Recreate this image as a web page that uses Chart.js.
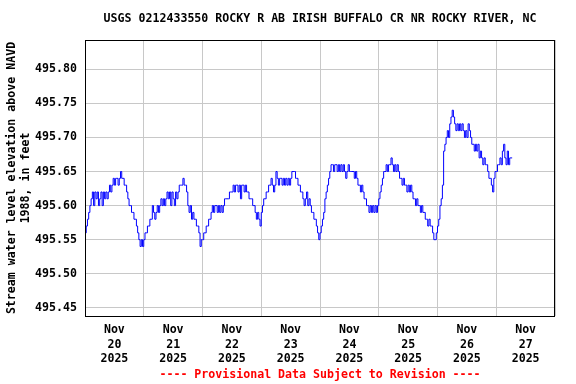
<!DOCTYPE html>
<html>
<head>
<meta charset="utf-8">
<script src="https://cdn.jsdelivr.net/npm/chart.js@4"></script>
<style>
  body { margin: 0; background: #fff; }
  canvas { display: block; }
</style>
</head>
<body>
<canvas id="levelChart" width="576" height="384"></canvas>
<script>
// 30-minute gage readings, ft above NAVD 1988, one array per day
const nov20 = [495.56,495.57,495.58,495.59,495.60,495.61,495.62,495.60,
               495.62,495.61,495.62,495.60,495.61,495.62,495.60,495.62,
               495.61,495.62,495.61,495.62,495.63,495.62,495.63,495.64,
               495.63,495.64,495.64,495.63,495.64,495.65,495.64,495.64,
               495.63,495.63,495.62,495.61,495.60,495.60,495.59,495.59,
               495.58,495.58,495.57,495.56,495.55,495.54,495.55,495.54];
const nov21 = [495.55,495.56,495.56,495.57,495.57,495.58,495.58,495.60,
               495.59,495.58,495.59,495.60,495.59,495.60,495.61,495.60,
               495.61,495.60,495.61,495.62,495.61,495.62,495.60,495.62,
               495.61,495.60,495.62,495.61,495.62,495.63,495.63,495.63,
               495.64,495.63,495.63,495.62,495.60,495.59,495.60,495.58,
               495.59,495.58,495.58,495.57,495.57,495.56,495.54,495.55];
const nov22 = [495.55,495.56,495.56,495.57,495.57,495.58,495.58,495.59,
               495.60,495.59,495.60,495.60,495.59,495.60,495.59,495.60,
               495.59,495.60,495.61,495.61,495.61,495.61,495.62,495.62,
               495.62,495.63,495.62,495.63,495.63,495.62,495.63,495.61,
               495.63,495.63,495.62,495.63,495.62,495.62,495.61,495.61,
               495.61,495.60,495.60,495.59,495.58,495.59,495.58,495.57];
const nov23 = [495.59,495.60,495.61,495.61,495.62,495.62,495.63,495.63,
               495.64,495.63,495.62,495.63,495.65,495.64,495.63,495.64,
               495.64,495.63,495.64,495.63,495.64,495.63,495.64,495.63,
               495.64,495.65,495.65,495.65,495.64,495.64,495.63,495.63,
               495.62,495.62,495.61,495.60,495.61,495.62,495.60,495.61,
               495.60,495.59,495.59,495.58,495.58,495.57,495.56,495.55];
const nov24 = [495.56,495.57,495.58,495.59,495.61,495.62,495.63,495.64,
               495.65,495.66,495.66,495.65,495.66,495.66,495.65,495.66,
               495.65,495.66,495.65,495.66,495.65,495.64,495.65,495.66,
               495.65,495.65,495.65,495.65,495.64,495.65,495.64,495.63,
               495.63,495.62,495.63,495.62,495.61,495.61,495.60,495.60,
               495.59,495.60,495.59,495.60,495.59,495.60,495.59,495.60];
const nov25 = [495.61,495.62,495.63,495.64,495.65,495.65,495.66,495.65,
               495.66,495.66,495.67,495.66,495.65,495.66,495.65,495.66,
               495.65,495.64,495.64,495.63,495.64,495.63,495.63,495.62,
               495.63,495.62,495.63,495.62,495.61,495.61,495.60,495.61,
               495.60,495.60,495.59,495.60,495.59,495.59,495.58,495.58,
               495.57,495.58,495.57,495.57,495.56,495.55,495.55,495.56];
const nov26 = [495.57,495.58,495.60,495.61,495.63,495.68,495.69,495.70,
               495.71,495.70,495.72,495.73,495.74,495.73,495.72,495.71,
               495.72,495.71,495.72,495.71,495.72,495.71,495.70,495.71,
               495.70,495.72,495.71,495.70,495.69,495.69,495.68,495.69,
               495.68,495.69,495.67,495.68,495.67,495.66,495.67,495.66,
               495.66,495.65,495.64,495.64,495.63,495.62,495.64,495.65];
const nov27 = [495.65,495.66,495.66,495.67,495.66,495.68,495.69,495.67,
               495.66,495.68,495.66,495.67,495.67,495.67];

const dayLabels = ['20', '21', '22', '23', '24', '25', '26', '27'];
const yTicks = [495.45, 495.50, 495.55, 495.60, 495.65, 495.70, 495.75, 495.80];
const xTicks = [0, 12, 24, 36, 48, 60, 72, 84, 96, 108, 120, 132, 144, 156, 168, 180, 192]; // hours from Nov 20 00:00
const stepHours = 0.5;

const levels = [].concat(nov20, nov21, nov22, nov23, nov24, nov25, nov26, nov27);
const points = levels.map((v, i) => ({ x: i * stepHours, y: v }));

const monoBold = { family: "'DejaVu Sans Mono', monospace", size: 11.6, weight: 'bold', lineHeight: '14px' };

// black box around the plot
const frame = {
  id: 'frame',
  afterDraw(chart) {
    const { ctx, chartArea: a } = chart;
    ctx.save();
    ctx.strokeStyle = '#000';
    ctx.lineWidth = 1;
    ctx.strokeRect(Math.round(a.left) + 0.5, Math.round(a.top) + 0.5,
                   Math.round(a.right - a.left) - 1, Math.round(a.bottom - a.top));
    ctx.restore();
  }
};

new Chart(document.getElementById('levelChart'), {
  type: 'line',
  data: {
    datasets: [{
      data: points,
      borderColor: '#0000ff',
      borderWidth: 1,
      pointRadius: 0,
      stepped: true,
      fill: false
    }]
  },
  options: {
    responsive: false,
    animation: false,
    devicePixelRatio: 1,
    layout: { padding: { left: 0, right: 21, top: 0, bottom: 0 } },
    plugins: {
      legend: { display: false },
      tooltip: { enabled: false },
      title: {
        display: true,
        text: 'USGS 0212433550 ROCKY R AB IRISH BUFFALO CR NR ROCKY RIVER, NC',
        color: '#000',
        font: monoBold,
        padding: { top: 12, bottom: 14 },
        fullSize: false
      },
      subtitle: {
        display: true,
        position: 'bottom',
        text: '---- Provisional Data Subject to Revision ----',
        color: '#ff0000',
        font: monoBold,
        padding: { top: 2, bottom: 2 },
        fullSize: false
      }
    },
    scales: {
      x: {
        type: 'linear',
        min: 0,
        max: 192,
        afterBuildTicks: s => { s.ticks = xTicks.map(v => ({ value: v })); },
        afterFit: s => { s.height = 50; },
        border: { display: false },
        grid: {
          drawTicks: false,
          lineWidth: 1,
          color: c => (c.tick && c.tick.value % 24 === 0) ? '#c8c8c8' : 'rgba(0,0,0,0)'
        },
        ticks: {
          autoSkip: false,
          maxRotation: 0,
          padding: 7,
          color: '#000',
          font: Object.assign({}, monoBold, { lineHeight: '14.5px' }),
          callback: v => (v % 24 === 12) ? ['Nov', dayLabels[(v - 12) / 24], '2025'] : ''
        }
      },
      y: {
        min: 495.438,
        max: 495.843,
        afterBuildTicks: s => { s.ticks = yTicks.map(v => ({ value: v })); },
        afterFit: s => { s.width = 85; },
        border: { display: false },
        grid: { drawTicks: false, lineWidth: 1, color: '#c8c8c8' },
        ticks: {
          padding: 8,
          color: '#000',
          font: monoBold,
          callback: v => v.toFixed(2)
        },
        title: {
          display: true,
          text: ['Stream water level elevation above NAVD', '1988, in feet'],
          color: '#000',
          font: monoBold,
          padding: { top: 5, bottom: 0 }
        }
      }
    }
  },
  plugins: [frame]
});
</script>
</body>
</html>
